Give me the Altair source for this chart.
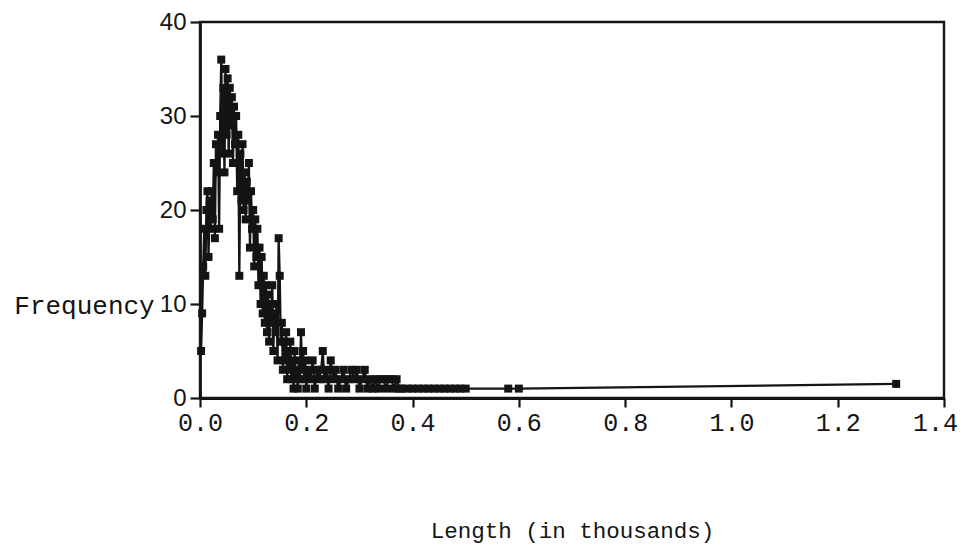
import altair as alt
import pandas as pd

# Length (in thousands) and frequency
lengths = [
    0.002, 0.004, 0.006, 0.008, 0.010, 0.012, 0.014, 0.016, 0.018, 0.020,
    0.022, 0.024, 0.026, 0.028, 0.030, 0.032, 0.034, 0.036, 0.038, 0.040,
    0.042, 0.044, 0.046, 0.048, 0.050, 0.052, 0.054, 0.056, 0.058, 0.060,
    0.062, 0.064, 0.066, 0.068, 0.070, 0.072, 0.074, 0.076, 0.078, 0.080,
    0.082, 0.084, 0.086, 0.088, 0.090, 0.092, 0.094, 0.096, 0.098, 0.100,
    0.102, 0.104, 0.106, 0.108, 0.110, 0.112, 0.114, 0.116, 0.118, 0.120,
    0.122, 0.124, 0.126, 0.128, 0.130, 0.132, 0.134, 0.136, 0.138, 0.140,
    0.142, 0.144, 0.146, 0.148, 0.150, 0.152, 0.154, 0.156, 0.158, 0.160,
    0.162, 0.164, 0.166, 0.168, 0.170, 0.172, 0.174, 0.176, 0.178, 0.180,
    0.182, 0.184, 0.186, 0.188, 0.190, 0.192, 0.194, 0.196, 0.198, 0.200,
    0.204, 0.208, 0.212, 0.216, 0.220, 0.224, 0.228, 0.231, 0.234, 0.238,
    0.242, 0.246, 0.250, 0.255, 0.260, 0.265, 0.270, 0.275, 0.280, 0.285,
    0.290, 0.295, 0.300, 0.305, 0.310, 0.315, 0.320, 0.325, 0.330, 0.335,
    0.340, 0.345, 0.350, 0.355, 0.360, 0.365, 0.370, 0.375, 0.380, 0.390,
    0.400, 0.410, 0.420, 0.430, 0.440, 0.450, 0.460, 0.470, 0.480, 0.490,
    0.500, 0.580, 0.600, 1.310,
]
frequency = [
    5, 9, 14, 18, 13, 20, 22, 15, 21, 18,
    22, 19, 25, 17, 27, 24, 28, 18, 30, 36,
    26, 33, 24, 35, 28, 34, 26, 33, 29, 32,
    25, 31, 27, 30, 22, 28, 13, 26, 21, 27,
    20, 24, 19, 23, 21, 25, 16, 22, 18, 20,
    14, 19, 15, 18, 12, 16, 10, 15, 9, 13,
    8, 12, 7, 11, 6, 10, 8, 12, 5, 9,
    7, 10, 4, 17, 13, 6, 8, 3, 6, 4,
    7, 2, 5, 3, 6, 2, 4, 1, 5, 2,
    3, 1, 4, 2, 7, 3, 5, 2, 4, 1,
    3, 2, 4, 1, 3, 2, 3, 5, 2, 3,
    1, 4, 2, 3, 1, 2, 3, 1, 2, 3,
    2, 3, 1, 2, 3, 1, 2, 1, 2, 1,
    2, 2, 1, 2, 2, 1, 2, 1, 1, 1,
    1, 1, 1, 1, 1, 1, 1, 1, 1, 1,
    1, 1, 1, 1.5,
]

x_ticks = [0.0, 0.2, 0.4, 0.6, 0.8, 1.0, 1.2, 1.4]
y_ticks = [0, 10, 20, 30, 40]

df = pd.DataFrame({"length": lengths, "freq": frequency})

INK = "#141414"
MONO = "Liberation Mono"

chart = (
    alt.Chart(df)
    .mark_line(
        color=INK,
        strokeWidth=2.3,
        point=alt.OverlayMarkDef(shape="square", filled=True, color=INK, size=64, opacity=1),
    )
    .encode(
        x=alt.X(
            "length:Q",
            scale=alt.Scale(domain=[0, 1.4], nice=False, zero=True),
            axis=alt.Axis(
                values=x_ticks,
                format=".1f",
                title="Length (in thousands)",
                titleFont=MONO,
                titleFontSize=22.5,
                titleFontWeight="normal",
                titleColor=INK,
                titleX=372,
                titleY=132,
                titleAlign="center",
                titleBaseline="middle",
                labelFont=MONO,
                labelFontSize=25,
                labelColor=INK,
                labelPadding=3,
                labelFlush=False,
                labelOffset={"condition": {"test": "datum.value >= 1.39", "value": -9}, "value": 0},
                tickSize=9,
                tickWidth=2.2,
                tickColor=INK,
                domainColor=INK,
                domainWidth=2.8,
                grid=False,
            ),
        ),
        y=alt.Y(
            "freq:Q",
            scale=alt.Scale(domain=[0, 40], nice=False),
            axis=alt.Axis(
                values=y_ticks,
                title="Frequency",
                titleAngle=0,
                titleFont=MONO,
                titleFontSize=26,
                titleFontWeight="normal",
                titleColor=INK,
                titleX=-116,
                titleY=283,
                titleAlign="center",
                titleBaseline="middle",
                labelFont="Liberation Sans",
                labelFontSize=24,
                labelColor=INK,
                labelPadding=4,
                labelFlush=False,
                tickSize=10,
                tickWidth=2.2,
                tickColor=INK,
                domainColor=INK,
                domainWidth=2.8,
                grid=False,
            ),
        ),
    )
    .properties(
        width=744,
        height=376,
        background="white",
        autosize=alt.AutoSizeParams(type="none"),
        padding={"left": 192, "top": 14, "right": 16, "bottom": 152},
    )
    .configure_view(stroke=INK, strokeWidth=2.4)
)

chart.save("out.html", embed_options={"renderer": "svg", "actions": False})
